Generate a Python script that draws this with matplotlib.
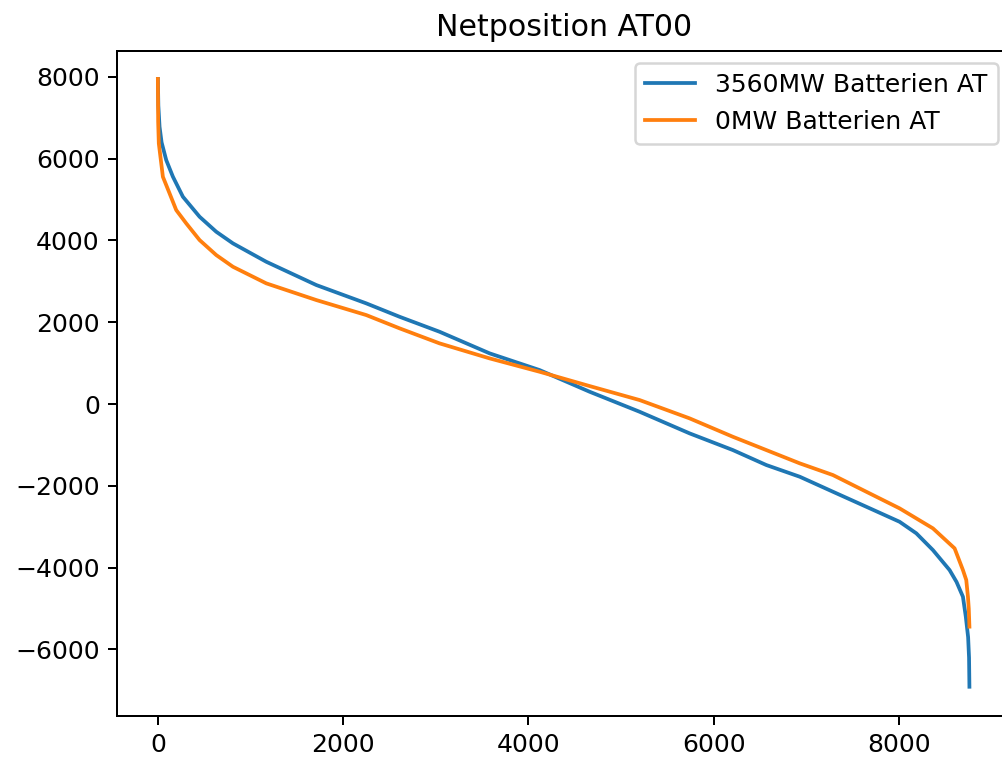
import matplotlib
matplotlib.use("Agg")
import matplotlib.pyplot as plt

# sorted hourly netposition (duration curve)
hours_bat = [0, 5, 18, 40, 90, 162, 270, 450, 630, 810, 1170, 1710, 2249, 2609,
             3040, 3580, 4120, 4660, 5199, 5739, 6206, 6567, 6928, 7286, 7646,
             8005, 8186, 8365, 8545, 8620, 8689, 8720, 8745, 8755, 8759]
netpos_bat = [7950, 7300, 6780, 6400, 5966, 5560, 5069, 4580, 4213, 3929, 3479,
              2910, 2462, 2134, 1768, 1240, 831, 301, -188, -717, -1125, -1491,
              -1777, -2144, -2511, -2878, -3161, -3570, -4059, -4350, -4711,
              -5200, -5700, -6200, -6912]

hours_nobat = [0, 3, 10, 54, 126, 198, 306, 450, 630, 810, 1170, 1710, 2249,
               2609, 3040, 3580, 4120, 4660, 5199, 5739, 6206, 6567, 6928, 7286,
               7646, 8005, 8365, 8599, 8689, 8725, 8743, 8752, 8759]
netpos_nobat = [7950, 6900, 6374, 5557, 5152, 4743, 4418, 4010, 3643, 3357,
                2951, 2543, 2176, 1851, 1484, 1117, 790, 440, 98, -350, -800,
                -1125, -1450, -1736, -2144, -2550, -3039, -3528, -4059, -4303,
                -4711, -5000, -5443]

labels = ['3560MW Batterien AT', '0MW Batterien AT']

dpi = 180
fig = plt.figure(figsize=(1002 / dpi, 759 / dpi), dpi=dpi)
# the reference is a crop: right spine sits just outside the picture
ax = fig.add_axes([117.3 / 1002, 43.3 / 759, (1010 - 117.3) / 1002, (715.7 - 50.7) / 759])
ax.plot(hours_bat, netpos_bat, label=labels[0])
ax.plot(hours_nobat, netpos_nobat, label=labels[1])
ax.set_xlim(-438, 9197)
ax.set_ylim(-7620, 8640)
ax.legend(loc='upper right')
ax.set_title('Netposition AT00')
fig.savefig('out.png', dpi=dpi)
